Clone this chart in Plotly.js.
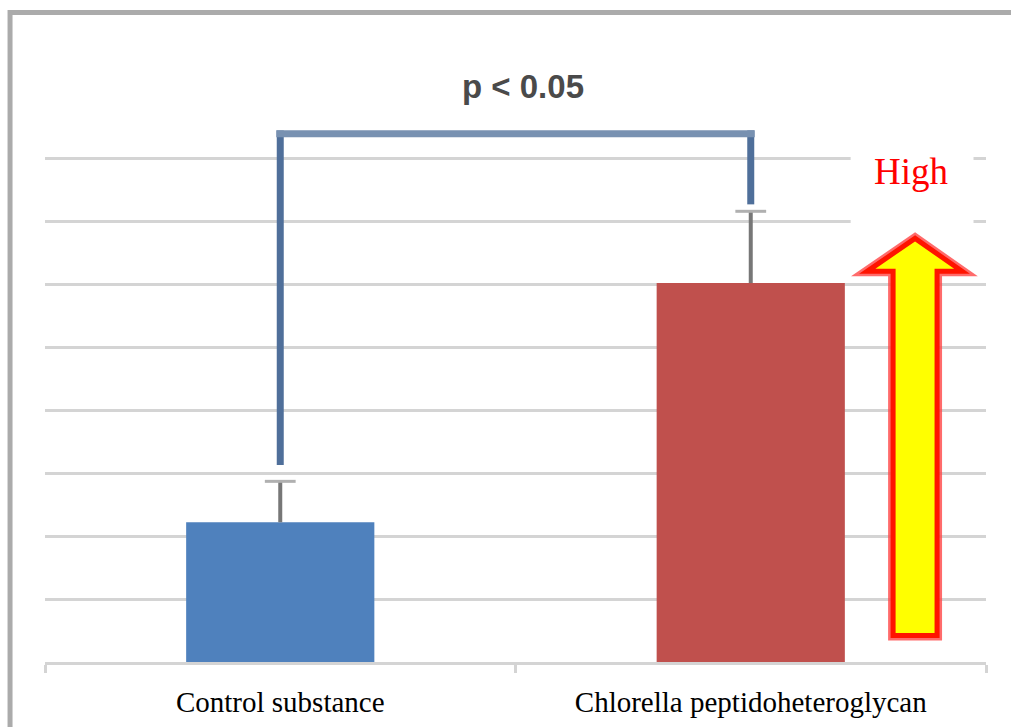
<!DOCTYPE html>
<html><head><meta charset="utf-8">
<script src="https://cdn.plot.ly/plotly-3.0.1.min.js"></script>
<style>html,body{margin:0;padding:0;background:#fff}#chart{width:1011px;height:727px}</style>
</head><body><div id="chart"></div>
<script>
// ---- data ----
const categories = ["Control substance", "Chlorella peptidoheteroglycan"];
const means = [2.22, 6.02];
const errors = [0.65, 1.14];
const barColors = ["#4f81bd", "#c0504d"];
const gridTicks = [1, 2, 3, 4, 5, 6, 7, 8];
const significanceText = "p < 0.05";
const arrowText = "High";

// ---- layout helpers ----
const W = 1011, H = 727;
const M = {l: 44.5, r: 24.5, t: 63.5, b: 65};
const yMax = 9.5;
function px(x) { return (x - M.l) / (W - M.l - M.r); }
function py(y) { return (H - M.b - y) / (H - M.t - M.b); }

const bracketLevel = 8.39;
const bracketGaps = [0.26, 0.11];
const bracketColV = "#4f6f9a", bracketColH = "#7891b1";

const bars = {
  type: "bar",
  x: categories,
  y: means,
  marker: {color: barColors},
  error_y: {type: "data", array: errors, symmetric: false, arrayminus: [0, 0],
            color: "#777777", thickness: 4, width: 0},
  hoverinfo: "skip"
};
// light caps on top of error bars
const caps = {
  type: "scatter", mode: "markers",
  x: categories,
  y: means.map((m, i) => m + errors[i]),
  marker: {symbol: "line-ew", size: 22, line: {color: "#b0b0b0", width: 3}},
  hoverinfo: "skip", cliponaxis: false
};

const shapes = [];
// significance bracket
shapes.push({type: "line", xref: "x", yref: "y", x0: 0, x1: 0,
  y0: means[0] + errors[0] + bracketGaps[0], y1: bracketLevel + 0.055,
  line: {color: bracketColV, width: 7}, layer: "above"});
shapes.push({type: "line", xref: "x", yref: "y", x0: 1, x1: 1,
  y0: means[1] + errors[1] + bracketGaps[1], y1: bracketLevel + 0.055,
  line: {color: bracketColV, width: 7}, layer: "above"});
shapes.push({type: "line", xref: "x", yref: "y", x0: -0.0085, x1: 1.0085,
  y0: bracketLevel, y1: bracketLevel,
  line: {color: bracketColH, width: 7}, layer: "above"});
// white box behind "High"
shapes.push({type: "rect", xref: "paper", yref: "paper",
  x0: px(851), x1: px(974), y0: py(232), y1: py(140),
  fillcolor: "#ffffff", line: {width: 0}, layer: "above"});
// arrow (decoration)
function arrowPath() {
  const pts = [[915.5, 238], [962.5, 271], [937.5, 271], [937.5, 635.5],
               [893.5, 635.5], [893.5, 271], [867.5, 271]];
  return "M " + pts.map(p => px(p[0]) + "," + py(p[1])).join(" L ") + " Z";
}
shapes.push({type: "path", xref: "paper", yref: "paper", path: arrowPath(),
  fillcolor: "rgba(0,0,0,0)", line: {color: "rgba(255,70,70,0.8)", width: 10}, layer: "above"});
shapes.push({type: "path", xref: "paper", yref: "paper", path: arrowPath(),
  fillcolor: "#ffff00", line: {color: "#ff1400", width: 5}, layer: "above"});
// outer frame
shapes.push({type: "rect", xref: "paper", yref: "paper",
  x0: px(9.5), x1: px(1040), y0: py(760), y1: py(12),
  fillcolor: "rgba(0,0,0,0)", line: {color: "#ababab", width: 5}, layer: "above"});

const layout = {
  width: W, height: H,
  margin: M,
  paper_bgcolor: "#ffffff", plot_bgcolor: "#ffffff",
  showlegend: false,
  bargap: 0.6,
  xaxis: {
    type: "category", range: [-0.5, 1.5],
    showline: true, linecolor: "#d4d4d4", linewidth: 3,
    ticks: "outside", tickson: "boundaries", ticklen: 8, tickwidth: 3, tickcolor: "#d4d4d4",
    ticklabelstandoff: 12,
    showgrid: false, zeroline: false,
    tickfont: {family: "Liberation Serif, 'Times New Roman', serif", size: 29, color: "#000"},
    fixedrange: true
  },
  yaxis: {
    range: [0, yMax], tickmode: "array", tickvals: gridTicks,
    showticklabels: false, showgrid: true, gridcolor: "#d4d4d4", gridwidth: 3,
    zeroline: false, showline: false, ticks: "", fixedrange: true
  },
  shapes: shapes,
  annotations: [
    {text: significanceText, xref: "paper", yref: "paper", x: px(523), y: py(86),
     xanchor: "center", yanchor: "middle", showarrow: false,
     font: {family: "Liberation Sans, Arial, sans-serif", size: 33, color: "#4a4a4a", weight: "bold"}},
    {text: arrowText, xref: "paper", yref: "paper", x: px(912), y: py(171),
     xanchor: "center", yanchor: "middle", showarrow: false,
     font: {family: "Liberation Serif, 'Times New Roman', serif", size: 37, color: "#ff0000"}}
  ]
};

Plotly.newPlot("chart", [bars, caps], layout, {displayModeBar: false, staticPlot: true});
</script>
</body></html>
